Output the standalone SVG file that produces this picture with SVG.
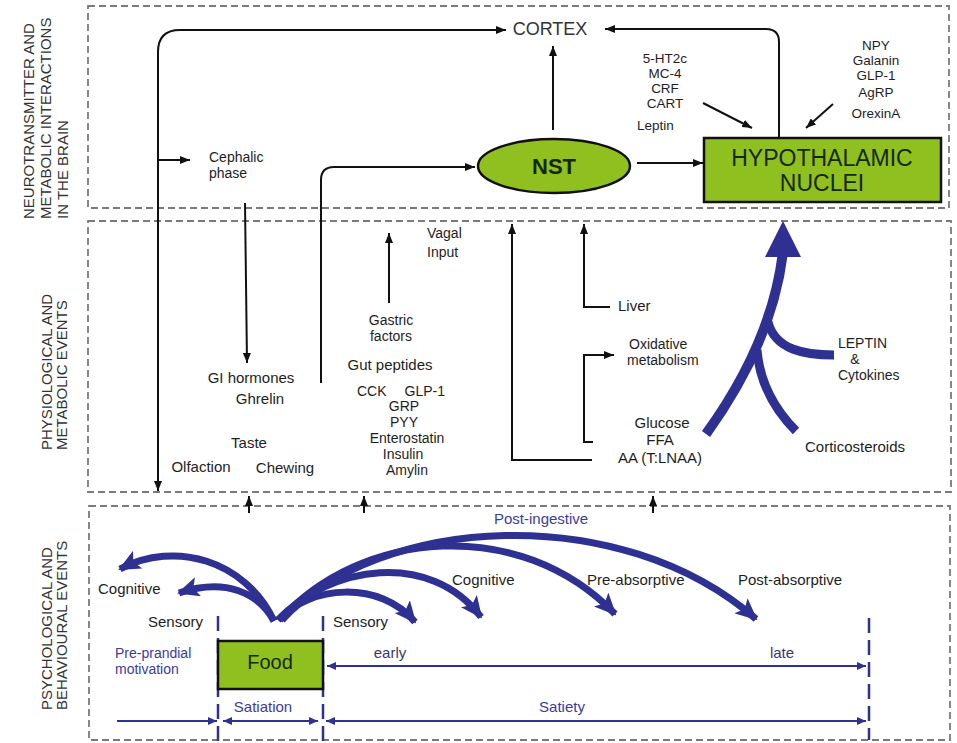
<svg xmlns="http://www.w3.org/2000/svg" width="957" height="743" viewBox="0 0 957 743">
<style>
text{font-family:"Liberation Sans",Arial,sans-serif;font-size:15px;fill:#1e1e1e}
.s{font-size:14px}
.xs{font-size:13.5px}
.side{font-size:15px;fill:#333}
.c{text-anchor:middle}
.e{text-anchor:end}
.blueT{fill:#3c3c9c}
.panel{fill:none;stroke:#7a7a7a;stroke-width:1.8;stroke-dasharray:7 4}
.con{fill:none;stroke:#111;stroke-width:2}
.thick{fill:none;stroke:#2e3192;stroke-width:7}
.thin{fill:none;stroke:#2e3192;stroke-width:2}
.vdash{fill:none;stroke:#2e3192;stroke-width:2.5;stroke-dasharray:15 7}
.green{fill:#90c020;stroke:#111;stroke-width:2.5}
.gt{fill:#142800}
</style>
<defs>
<marker id="ah" viewBox="0 0 10 8" refX="10" refY="4" markerWidth="10" markerHeight="8" markerUnits="userSpaceOnUse" orient="auto-start-reverse"><path d="M0,0 L10,4 L0,8 z" fill="#111"/></marker>
<marker id="bh" viewBox="0 0 9 8" refX="9" refY="4" markerWidth="9" markerHeight="8" markerUnits="userSpaceOnUse" orient="auto-start-reverse"><path d="M0,0 L9,4 L0,8 z" fill="#2e3192"/></marker>
<marker id="big" viewBox="0 0 22 20" refX="20" refY="10" markerWidth="22" markerHeight="20" markerUnits="userSpaceOnUse" orient="auto"><path d="M0,0 L22,10 L0,20 L5,10 z" fill="#2e3192"/></marker>
</defs>

<g id="panels">
<rect class="panel" x="88" y="6" width="861" height="202"/>
<rect class="panel" x="88" y="221" width="863" height="271"/>
<rect class="panel" x="89" y="506" width="861" height="234"/>
</g>

<g id="side-labels">
<text class="side" transform="translate(34,219) rotate(-90)">NEUROTRANSMITTER AND</text>
<text class="side" transform="translate(51,219) rotate(-90)">METABOLIC INTERACTIONS</text>
<text class="side" transform="translate(68,219) rotate(-90)">IN THE BRAIN</text>
<text class="side" transform="translate(52,450) rotate(-90)">PHYSIOLOGICAL AND</text>
<text class="side" transform="translate(67,450) rotate(-90)">METABOLIC EVENTS</text>
<text class="side" transform="translate(52,710) rotate(-90)">PSYCHOLOGICAL AND</text>
<text class="side" transform="translate(67,710) rotate(-90)">BEHAVIOURAL EVENTS</text>
</g>

<g id="connectors">
<path class="con" d="M158,491 V52 Q158,30 180,30 H506" marker-start="url(#ah)" marker-end="url(#ah)"/>
<path class="con" d="M158,160 H190" marker-end="url(#ah)"/>
<path class="con" d="M245,203 L247,363" marker-end="url(#ah)"/>
<path class="con" d="M321,383 V180 Q321,167 334,167 H475" marker-end="url(#ah)"/>
<path class="con" d="M553,130 V46" marker-end="url(#ah)"/>
<path class="con" d="M637,163 H703" marker-end="url(#ah)"/>
<path class="con" d="M779,137 V42 Q779,29 766,29 H605" marker-end="url(#ah)"/>
<path class="con" d="M703,103 L752,128" marker-end="url(#ah)"/>
<path class="con" d="M833,104 L806,128" marker-end="url(#ah)"/>
<path class="con" d="M389,303 V233" marker-end="url(#ah)"/>
<path class="con" d="M592,460 H512 V224" marker-end="url(#ah)"/>
<path class="con" d="M610,307 H584 V224" marker-end="url(#ah)"/>
<path class="con" d="M593,442 H584 V355 H614" marker-end="url(#ah)"/>
<path class="con" d="M249,513 V496" marker-end="url(#ah)"/>
<path class="con" d="M364,513 V496" marker-end="url(#ah)"/>
<path class="con" d="M653,513 V496" marker-end="url(#ah)"/>

<g id="blue-tree">
<path fill="none" stroke="#2e3192" stroke-width="10" d="M706,434 C745,380 775,320 783,252"/>
<path fill="none" stroke="#2e3192" stroke-width="9" d="M834,355 C805,355 775,350 768,322"/>
<path fill="none" stroke="#2e3192" stroke-width="9" d="M796,431 C775,410 760,385 757,350"/>
<polygon points="783,221 801,257 765,257" fill="#2e3192"/>
</g>

<g id="food-arrows">
<path class="thick" stroke-width="6" d="M274,621 C245,560 175,540 120,569" marker-end="url(#big)"/>
<path class="thick" stroke-width="6" d="M274,621 C258,592 225,578 179,593" marker-end="url(#big)"/>
<path class="thick" d="M278,620 C310,585 380,580 415,622" marker-end="url(#big)"/>
<path class="thick" d="M278,620 C330,565 430,550 481,617" marker-end="url(#big)"/>
<path class="thick" d="M280,620 C360,530 520,515 615,614" marker-end="url(#big)"/>
<path class="thick" d="M282,620 C380,515 620,500 756,619" marker-end="url(#big)"/>
</g>

<g id="timeline">
<path class="vdash" d="M218,616 V742"/>
<path class="vdash" d="M323,616 V742"/>
<path class="vdash" d="M869,618 V740"/>
<path class="thin" d="M327,666 H866" marker-start="url(#bh)" marker-end="url(#bh)"/>
<path class="thin" d="M117,721 H217" marker-end="url(#bh)"/>
<path class="thin" d="M223,721 H318" marker-start="url(#bh)" marker-end="url(#bh)"/>
<path class="thin" d="M326,721 H866" marker-start="url(#bh)" marker-end="url(#bh)"/>
</g>
</g>

<g id="cortex"><text class="c" x="550" y="35" style="font-size:18px;fill:#333">CORTEX</text></g>
<g id="nst"><ellipse class="green" cx="554" cy="166" rx="76" ry="27"/><text class="c gt" x="554" y="174" style="font-size:22px;font-weight:bold">NST</text></g>
<g id="hypothalamic"><rect class="green" x="704" y="138" width="237" height="64" stroke-width="3"/>
<text class="c gt" x="822" y="166" style="font-size:23px">HYPOTHALAMIC</text>
<text class="c gt" x="822" y="191" style="font-size:23px">NUCLEI</text></g>
<g id="food"><rect class="green" x="218" y="641" width="105" height="48"/><text class="c gt" x="270" y="669" style="font-size:20px">Food</text></g>

<g id="brain-labels">
<text class="s" x="209" y="162">Cephalic</text><text class="s" x="209" y="178">phase</text>
<text class="c xs" x="665" y="63">5-HT2c</text>
<text class="c xs" x="665" y="78">MC-4</text>
<text class="c xs" x="665" y="93">CRF</text>
<text class="c xs" x="665" y="108">CART</text>
<text class="xs" x="637" y="130">Leptin</text>
<text class="c xs" x="876" y="50">NPY</text>
<text class="c xs" x="876" y="65">Galanin</text>
<text class="c xs" x="876" y="80">GLP-1</text>
<text class="c xs" x="876" y="97">AgRP</text>
<text class="c xs" x="876" y="118">OrexinA</text>
</g>

<g id="physio-labels">
<text class="s" x="427" y="238">Vagal</text><text class="s" x="427" y="257">Input</text>
<text class="c s" x="391" y="325">Gastric</text><text class="c s" x="391" y="341">factors</text>
<text class="c" x="390" y="370">Gut peptides</text>
<text class="s" x="357" y="396">CCK</text><text class="e s" x="445" y="396">GLP-1</text>
<text class="c s" x="404" y="411">GRP</text>
<text class="c s" x="404" y="427">PYY</text>
<text class="c s" x="407" y="443">Enterostatin</text>
<text class="c s" x="403" y="459">Insulin</text>
<text class="c s" x="407" y="475">Amylin</text>
<text class="c" x="251" y="383">GI hormones</text>
<text class="c" x="260" y="404">Ghrelin</text>
<text class="c" x="249" y="448">Taste</text>
<text class="c" x="201" y="472">Olfaction</text>
<text class="c" x="285" y="473">Chewing</text>
<text x="618" y="311">Liver</text>
<text class="s" x="629" y="349">Oxidative</text><text class="s" x="627" y="365">metabolism</text>
<text class="c" x="662" y="428">Glucose</text>
<text class="c" x="660" y="445">FFA</text>
<text class="c" x="660" y="463">AA (T:LNAA)</text>
<text class="s" x="838" y="348">LEPTIN</text>
<text class="c s" x="855" y="364">&amp;</text>
<text class="s" x="838" y="380">Cytokines</text>
<text x="805" y="452">Corticosteroids</text>
</g>

<g id="behaviour-labels">
<text class="blueT" x="494" y="524">Post-ingestive</text>
<text x="98" y="594">Cognitive</text>
<text class="e" x="203" y="627">Sensory</text>
<text x="333" y="627">Sensory</text>
<text x="452" y="585">Cognitive</text>
<text x="587" y="585">Pre-absorptive</text>
<text x="738" y="585">Post-absorptive</text>
<text class="blueT s" x="115" y="658">Pre-prandial</text>
<text class="blueT s" x="115" y="674">motivation</text>
<text class="c" x="390" y="658" style="fill:#3a3a6a">early</text>
<text class="c" x="782" y="658" style="fill:#3a3a6a">late</text>
<text class="c blueT" x="263" y="712">Satiation</text>
<text class="c blueT" x="562" y="712">Satiety</text>
</g>
</svg>
